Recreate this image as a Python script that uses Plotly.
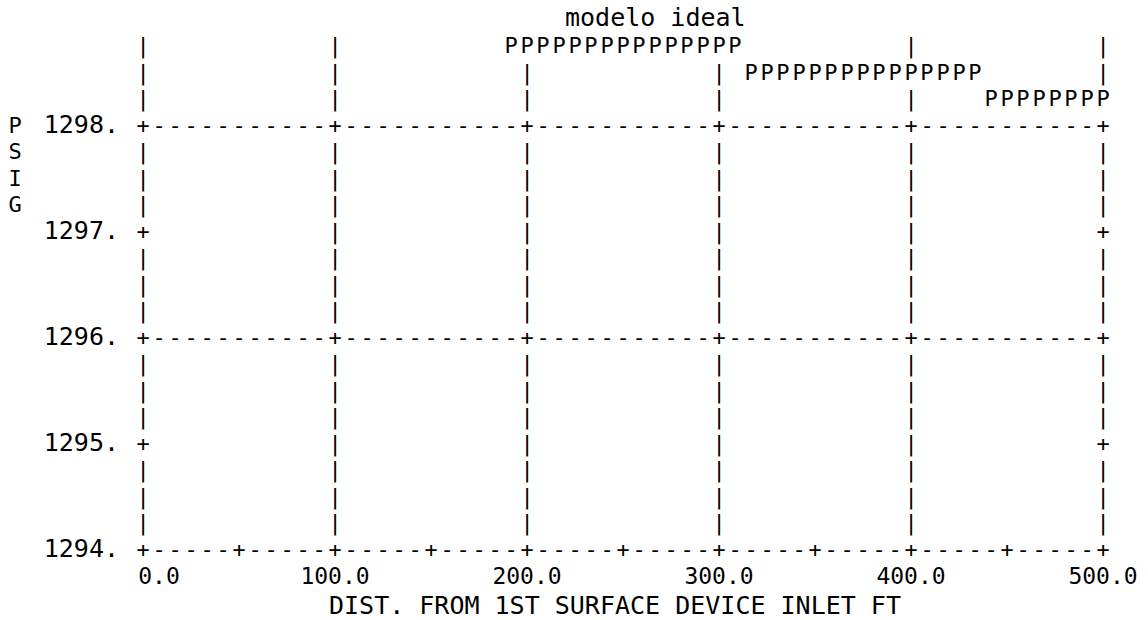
import plotly.graph_objects as go

# ---------------- data ----------------
distance_ft = [191.67, 200.0, 208.33, 216.67, 225.0, 233.33, 241.67, 250.0,
               258.33, 266.67, 275.0, 283.33, 291.67, 300.0, 308.33,
               316.67, 325.0, 333.33, 341.67, 350.0, 358.33, 366.67, 375.0,
               383.33, 391.67, 400.0, 408.33, 416.67, 425.0, 433.33,
               441.67, 450.0, 458.33, 466.67, 475.0, 483.33, 491.67, 500.0]
pressure_psig = [1298.75, 1298.75, 1298.75, 1298.75, 1298.75, 1298.75, 1298.75, 1298.75,
                 1298.75, 1298.75, 1298.75, 1298.75, 1298.75, 1298.75, 1298.75,
                 1298.5, 1298.5, 1298.5, 1298.5, 1298.5, 1298.5, 1298.5, 1298.5,
                 1298.5, 1298.5, 1298.5, 1298.5, 1298.5, 1298.5, 1298.5,
                 1298.25, 1298.25, 1298.25, 1298.25, 1298.25, 1298.25, 1298.25, 1298.25]
series_symbol = "P"
series_name = "modelo ideal"

x_major_ticks = [0, 100, 200, 300, 400, 500]
x_minor_ticks = [50, 150, 250, 350, 450]
x_tick_labels = ["0.0", "100.0", "200.0", "300.0", "400.0", "500.0"]
y_ticks = [1294, 1295, 1296, 1297, 1298]
y_grid_values = [1294, 1296, 1298]
y_tick_labels = ["1294.", "1295.", "1296.", "1297.", "1298."]
y_top = 1298.75
x_title = "DIST. FROM 1ST SURFACE DEVICE INLET FT"
y_title = "PSIG"

# ---------------- character grid geometry ----------------
CELL_X = 100 / 12      # feet per printer column
CELL_Y = 0.25          # psig per printer row
PX_PER_CELL_X = 16.0
PX_PER_CELL_Y = 26.5
ORIGIN_PX_X = 143.0    # pixel of x = 0
Y_REF = 1298.0
Y_REF_PX = 127.0
W, H = 1148, 620

sx = PX_PER_CELL_X / CELL_X
sy = PX_PER_CELL_Y / CELL_Y
x_range = [-ORIGIN_PX_X / sx, (W - ORIGIN_PX_X) / sx]
y_range = [Y_REF - (H - Y_REF_PX) / sy, Y_REF + Y_REF_PX / sy]

FAMILY = "DejaVu Sans Mono, Liberation Mono, monospace"
F_GRID = dict(family=FAMILY, size=22, color="black")
F_LABEL = dict(family=FAMILY, size=25, color="black")
F_XLAB = dict(family=FAMILY, size=23, color="black")

def col_of(x):
    return round(x / CELL_X)

def row_of(y):
    return round((y - y_ticks[0]) / CELL_Y)

occupied = {(col_of(x), row_of(y)) for x, y in zip(distance_ft, pressure_psig)}
major_cols = {col_of(v) for v in x_major_ticks}
minor_cols = {col_of(v) for v in x_minor_ticks}
last_col = col_of(x_major_ticks[-1])
n_rows = row_of(y_top)
grid_rows = {row_of(v) for v in y_grid_values}
tick_rows = {row_of(v) for v in y_ticks}

gx, gy, gt = [], [], []
for r in range(0, n_rows + 1):
    for c in range(0, last_col + 1):
        ch = None
        if r == 0:
            ch = "+" if (c in major_cols or c in minor_cols) else "-"
        elif r in grid_rows:
            ch = "+" if c in major_cols else "-"
        elif r in tick_rows:
            if c == 0 or c == last_col:
                ch = "+"
            elif c in major_cols:
                ch = "|"
        else:
            if c in major_cols:
                ch = "|"
        if ch is None or (c, r) in occupied:
            continue
        gx.append(c * CELL_X)
        gy.append(y_ticks[0] + r * CELL_Y)
        gt.append(ch)

fig = go.Figure()

# grid / axes drawn as printer characters
fig.add_trace(go.Scatter(x=gx, y=gy, text=gt, mode="text", textfont=F_GRID,
                         textposition="middle center", hoverinfo="skip", showlegend=False))

# data series
fig.add_trace(go.Scatter(x=distance_ft, y=pressure_psig, mode="text",
                         text=[series_symbol] * len(distance_ft), name=series_name,
                         textfont=F_GRID, textposition="middle center", showlegend=False))

# y tick labels: right edge two columns left of the axis
fig.add_trace(go.Scatter(x=[(-2 + 0.5) * CELL_X] * len(y_ticks), y=y_ticks,
                         text=y_tick_labels, mode="text", textfont=F_LABEL,
                         textposition="middle left", hoverinfo="skip", showlegend=False))

# x tick labels: right-justified in a 5-character field centred on the tick
xl_x = []
for v, lab in zip(x_major_ticks, x_tick_labels):
    first = col_of(v) - 2 + (5 - len(lab))
    xl_x.append((first + (len(lab) - 1) / 2) * CELL_X)
fig.add_trace(go.Scatter(x=xl_x, y=[y_ticks[0] - 1.0 * CELL_Y - 0.7 / sy] * len(xl_x),
                         text=x_tick_labels, mode="text", textfont=F_XLAB,
                         textposition="middle center", hoverinfo="skip", showlegend=False))

# vertical y title, one letter per printer row
fig.add_trace(go.Scatter(x=[-8 * CELL_X] * len(y_title),
                         y=[y_ticks[-1] - i * CELL_Y for i in range(len(y_title))],
                         text=list(y_title), mode="text", textfont=F_GRID,
                         textposition="middle center", hoverinfo="skip", showlegend=False))

fig.add_annotation(x=32 * CELL_X, y=y_top + CELL_Y + 3.5 / sy, xref="x", yref="y",
                   text=series_name, showarrow=False, font=F_LABEL,
                   xanchor="center", yanchor="middle")
fig.add_annotation(x=29.5 * CELL_X, y=y_ticks[0] - 2 * CELL_Y - 1.3 / sy, xref="x", yref="y",
                   text=x_title, showarrow=False, font=F_LABEL,
                   xanchor="center", yanchor="middle")

fig.update_layout(
    width=W, height=H, margin=dict(l=0, r=0, t=0, b=0, pad=0),
    paper_bgcolor="white", plot_bgcolor="white",
    xaxis=dict(range=x_range, visible=False, fixedrange=True),
    yaxis=dict(range=y_range, visible=False, fixedrange=True),
    showlegend=False,
)

fig.write_html("out.html")
